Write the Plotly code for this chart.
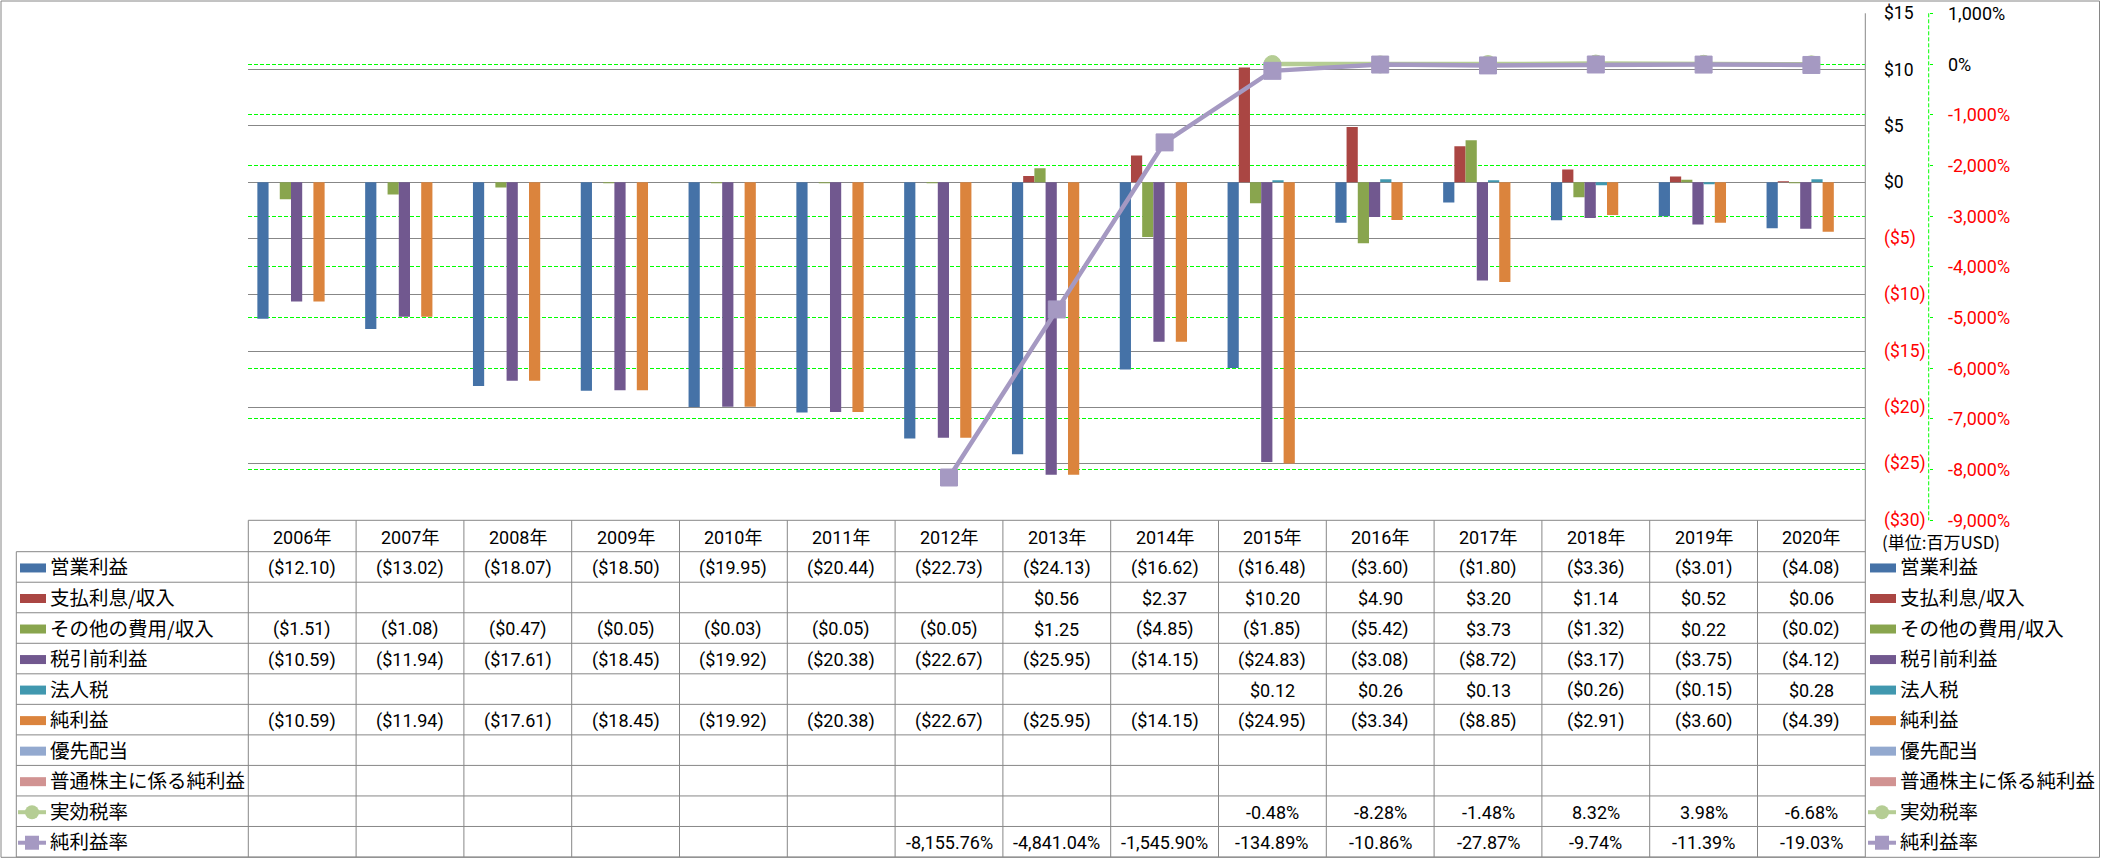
import plotly.graph_objects as go

W, H = 2101, 858

# ---------------- data ----------------
years = ["2006年", "2007年", "2008年", "2009年", "2010年", "2011年", "2012年", "2013年",
         "2014年", "2015年", "2016年", "2017年", "2018年", "2019年", "2020年"]

op_income = [-12.10, -13.02, -18.07, -18.50, -19.95, -20.44, -22.73, -24.13, -16.62, -16.48,
             -3.60, -1.80, -3.36, -3.01, -4.08]
interest = [None, None, None, None, None, None, None, 0.56, 2.37, 10.20, 4.90, 3.20, 1.14, 0.52, 0.06]
other_exp = [-1.51, -1.08, -0.47, -0.05, -0.03, -0.05, -0.05, 1.25, -4.85, -1.85, -5.42, 3.73,
             -1.32, 0.22, -0.02]
pretax = [-10.59, -11.94, -17.61, -18.45, -19.92, -20.38, -22.67, -25.95, -14.15, -24.83, -3.08,
          -8.72, -3.17, -3.75, -4.12]
income_tax = [None, None, None, None, None, None, None, None, None, 0.12, 0.26, 0.13, -0.26, -0.15, 0.28]
net_income = [-10.59, -11.94, -17.61, -18.45, -19.92, -20.38, -22.67, -25.95, -14.15, -24.95,
              -3.34, -8.85, -2.91, -3.60, -4.39]
pref_div = [None] * 15
net_common = [None] * 15
eff_tax_rate = [None, None, None, None, None, None, None, None, None, -0.48, -8.28, -1.48, 8.32, 3.98, -6.68]
net_margin = [None, None, None, None, None, None, -8155.76, -4841.04, -1545.90, -134.89, -10.86,
              -27.87, -9.74, -11.39, -19.03]

bar_names = ["営業利益", "支払利息/収入", "その他の費用/収入", "税引前利益", "法人税", "純利益",
             "優先配当", "普通株主に係る純利益"]
bar_values = [op_income, interest, other_exp, pretax, income_tax, net_income, pref_div, net_common]
line_names = ["実効税率", "純利益率"]
line_values = [eff_tax_rate, net_margin]

usd_ticks = [15, 10, 5, 0, -5, -10, -15, -20, -25, -30]
pct_ticks = [1000, 0, -1000, -2000, -3000, -4000, -5000, -6000, -7000, -8000, -9000]
unit_label = "(単位:百万USD)"

# ---------------- style ----------------
bar_colors = ["#4572A7", "#AA4643", "#89A54E", "#71588F", "#4198AF", "#DB843D", "#93A9CF", "#D19392"]
line_colors = ["#B5CD94", "#A599C2"]
line_symbols = ["circle", "square"]
GRID = "#878787"
GREEN = "#00FF00"
RED = "#FF0000"
NUM_FONT = "Roboto, 'Noto Sans CJK JP', sans-serif"
JP_FONT = "'Noto Sans CJK JP', sans-serif"

def px(x):
    return x / W

def py(y):
    return 1 - y / H

PL, PR, PT, PB = 248.3, 1865.3, 13.3, 520.3
TBL_LEFT = 16.3
HDR_BOT = 551.7
ROW_H = 30.53
COL_W = (PR - PL) / len(years)

def fmt_usd(v):
    if v is None:
        return ""
    return f"(${abs(v):,.2f})" if v < 0 else f"${v:,.2f}"

def fmt_pct(v):
    if v is None:
        return ""
    return f"{v:,.2f}%"

fig = go.Figure()
for name, vals, col in zip(bar_names, bar_values, bar_colors):
    fig.add_trace(go.Bar(x=years, y=vals, name=name, marker=dict(color=col, line=dict(width=0)),
                         yaxis="y", showlegend=False))
for name, vals, col, sym in zip(line_names, line_values, line_colors, line_symbols):
    fig.add_trace(go.Scatter(x=years, y=vals, name=name, yaxis="y2", mode="lines+markers",
                             line=dict(color=col, width=4.5),
                             marker=dict(symbol=sym, size=17, color=col,
                                         line=dict(color=col, width=1)),
                             showlegend=False))

shapes = []
annotations = []

# outer border
shapes.append(dict(type="rect", xref="paper", yref="paper", x0=px(1), x1=px(2099.5), y0=py(857.3), y1=py(1),
                   line=dict(color="#868686", width=1), fillcolor="rgba(0,0,0,0)", layer="below"))

def hline(x0, x1, y, color=GRID, dash=None):
    d = dict(type="line", xref="paper", yref="paper", x0=px(x0), x1=px(x1), y0=py(y), y1=py(y),
             line=dict(color=color, width=1))
    if dash:
        d["line"]["dash"] = dash
    shapes.append(d)

def vline(x, y0, y1, color=GRID, dash=None):
    d = dict(type="line", xref="paper", yref="paper", x0=px(x), x1=px(x), y0=py(y0), y1=py(y1),
             line=dict(color=color, width=1))
    if dash:
        d["line"]["dash"] = dash
    shapes.append(d)

# plot right border through table
vline(PR, PT, 857)
# secondary axis dashed line
vline(1928.7, PT, PB, color=GREEN, dash="4px,2px")

# table lines
hline(PL, PR, PB)
n_rows = len(bar_names) + len(line_names)
for i in range(n_rows + 1):
    hline(TBL_LEFT, PR, HDR_BOT + i * ROW_H)
vline(TBL_LEFT, HDR_BOT, HDR_BOT + n_rows * ROW_H)
for k in range(len(years)):
    vline(PL + k * COL_W, PB, HDR_BOT + n_rows * ROW_H)

def text(x, y, s, size=18, color="#000000", family=NUM_FONT, xanchor="center"):
    annotations.append(dict(x=px(x), y=py(y), xref="paper", yref="paper", text=s, showarrow=False,
                            xanchor=xanchor, yanchor="middle", borderpad=0,
                            font=dict(family=family, size=size, color=color)))

# header years
for k, yr in enumerate(years):
    text(PL + (k + 0.5) * COL_W, (PB + HDR_BOT) / 2 + 1, yr)

# table rows
row_labels = bar_names + line_names
row_values = bar_values + line_values
row_colors = bar_colors + line_colors
for i, (lab, vals, col) in enumerate(zip(row_labels, row_values, row_colors)):
    cy = HDR_BOT + (i + 0.5) * ROW_H
    is_line = i >= len(bar_names)
    for k, v in enumerate(vals):
        s = fmt_pct(v) if is_line else fmt_usd(v)
        if s:
            text(PL + (k + 0.5) * COL_W, cy + 1, s)
    # legend keys (left in table, right outside)
    for kx0, lx in ((20, 48.5), (1870, 1898.5)):
        if not is_line:
            shapes.append(dict(type="rect", xref="paper", yref="paper", x0=px(kx0), x1=px(kx0 + 26),
                               y0=py(cy + 5.5), y1=py(cy - 3.5), line=dict(width=0), fillcolor=col))
        else:
            shapes.append(dict(type="line", xref="paper", yref="paper", x0=px(kx0 - 2), x1=px(kx0 + 26),
                               y0=py(cy + 1), y1=py(cy + 1), line=dict(color=col, width=4)))
            cx = kx0 + 12
            r = 7
            shapes.append(dict(type="circle" if i == len(bar_names) else "rect", xref="paper", yref="paper",
                               x0=px(cx - r), x1=px(cx + r), y0=py(cy + 1 + r), y1=py(cy + 1 - r),
                               line=dict(width=0), fillcolor=col))
        text(lx, cy - 1, lab, size=19.5, family=JP_FONT, xanchor="left")

# axis labels (primary, USD) from data ticks
for v in usd_ticks:
    s = f"(${abs(v)})" if v < 0 else f"${v}"
    annotations.append(dict(x=px(1883), y=v, xref="paper", yref="y", text=s, showarrow=False,
                            xanchor="left", yanchor="middle", borderpad=0,
                            font=dict(family=NUM_FONT, size=17.5, color=RED if v < 0 else "#000000")))
for v in pct_ticks:
    s = f"{v:,}%"
    annotations.append(dict(x=px(1946.5), y=v, xref="paper", yref="y2", text=s, showarrow=False,
                            xanchor="left", yanchor="middle", borderpad=0,
                            font=dict(family=NUM_FONT, size=18, color=RED if v < 0 else "#000000")))
text(1881, 541, unit_label, size=17, family=JP_FONT, xanchor="left")

fig.update_layout(
    width=W, height=H,
    margin=dict(l=0, r=0, t=0, b=0),
    paper_bgcolor="white", plot_bgcolor="white",
    barmode="group", bargap=0.168, bargroupgap=0,
    showlegend=False,
    xaxis=dict(domain=[px(PL), px(PR)], type="category", range=[-0.5, len(years) - 0.5],
               showticklabels=False, showgrid=False, zeroline=False, showline=False, ticks=""),
    yaxis=dict(domain=[py(PB), py(PT)], range=[-30, 15], tickvals=usd_ticks, showticklabels=False,
               showgrid=True, gridcolor=GRID, gridwidth=1, zeroline=True, zerolinecolor=GRID,
               zerolinewidth=1, showline=False, ticks=""),
    yaxis2=dict(overlaying="y", range=[-9000, 1000], tickvals=pct_ticks, showticklabels=False,
                anchor="free", position=px(1928.7), side="right", ticks="outside", ticklen=3,
                tickcolor=GREEN, tickwidth=1, showgrid=True, gridcolor=GREEN, griddash="4px,2px",
                gridwidth=1, zeroline=False, showline=False),
    shapes=shapes,
    annotations=annotations,
)

fig.write_html("out.html", config={"displayModeBar": False})
